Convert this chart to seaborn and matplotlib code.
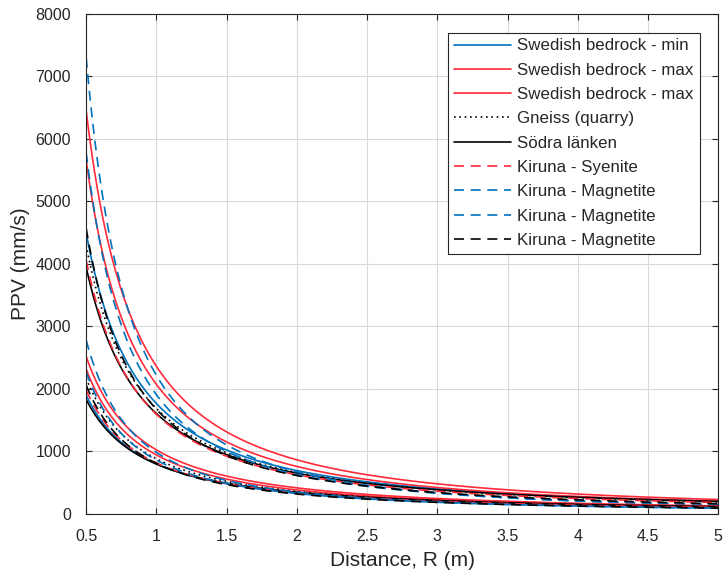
import numpy as np
import pandas as pd
import seaborn as sns
import matplotlib
matplotlib.use("Agg")
import matplotlib.pyplot as plt

# site laws: PPV at R = 0.5 m and decay exponent
sites = ["Swedish bedrock - min", "Swedish bedrock - max", "Swedish bedrock - max",
         "Gneiss (quarry)", "Södra länken", "Kiruna - Syenite",
         "Kiruna - Magnetite", "Kiruna - Magnetite", "Kiruna - Magnetite"]
ppv_half_high = [4500, 6450, 5660, 4300, 3950, 4060, 7300, 5780, 4570]
exp_high = [1.35, 1.45, 1.45, 1.35, 1.30, 1.35, 1.72, 1.60, 1.45]
ppv_half_low = [1900, 2520, 2320, 2170, 1830, 1980, 2780, 2270, 2060]
exp_low = [1.25, 1.30, 1.30, 1.30, 1.20, 1.28, 1.50, 1.40, 1.35]

distance = np.linspace(0.5, 5, 300)

# styles
colors = ["#0072BD", "#FF2A3A", "#FF2A3A", "black", "black", "#FF2A3A",
          "#0072BD", "#0072BD", "black"]
dash = (0, (6, 4))
styles = ["-", "-", "-", (0, (1, 2.2)), "-", dash, dash, dash, dash]

rows = []
for group, p0s, exps in [("high", ppv_half_high, exp_high), ("low", ppv_half_low, exp_low)]:
    for i in range(len(sites)):
        ppv = p0s[i] * (distance / 0.5) ** (-exps[i])
        rows.append(pd.DataFrame({"Distance": distance, "PPV": ppv,
                                  "curve": i, "group": group}))
df = pd.concat(rows, ignore_index=True)

sns.set_theme(style="whitegrid")
plt.rcParams["font.family"] = ["Liberation Sans", "DejaVu Sans"]

fig = plt.figure(figsize=(7.24, 5.78), dpi=100)
ax = fig.add_axes([0.119, 0.111, 0.873, 0.865])

for group in ["high", "low"]:
    for i in range(len(sites)):
        sub = df[(df["group"] == group) & (df["curve"] == i)]
        sns.lineplot(data=sub, x="Distance", y="PPV", ax=ax, estimator=None,
                     color=colors[i], linestyle=styles[i], linewidth=1.2,
                     label=sites[i] if group == "high" else None)

ax.set_xlim(0.5, 5)
ax.set_ylim(0, 8000)
ax.set_xticks(np.arange(0.5, 5.01, 0.5))
ax.set_xticklabels(["0.5", "1", "1.5", "2", "2.5", "3", "3.5", "4", "4.5", "5"])
ax.set_yticks(np.arange(0, 8001, 1000))
ax.set_xlabel("Distance, R (m)", fontsize=15, color="#262626", labelpad=5)
ax.set_ylabel("PPV (mm/s)", fontsize=15, color="#262626", labelpad=4)
ax.tick_params(axis="x", pad=11)
ax.tick_params(axis="y", pad=11)
ax.tick_params(axis="both", labelsize=11.5, colors="#262626", direction="in",
               length=4, width=0.8, top=True, right=True, bottom=True, left=True)
ax.grid(True, color="#dadada", linewidth=0.8)
for s in ax.spines.values():
    s.set_color("#262626")
    s.set_linewidth(0.8)

leg = ax.legend(loc="upper right", fontsize=12.2, frameon=True, fancybox=False,
                edgecolor="#262626", framealpha=1, handlelength=3.4,
                handletextpad=0.35, borderpad=0.35, borderaxespad=1.1,
                labelspacing=0.55)
leg.get_frame().set_linewidth(0.8)

fig.savefig("out.png", dpi=100)
